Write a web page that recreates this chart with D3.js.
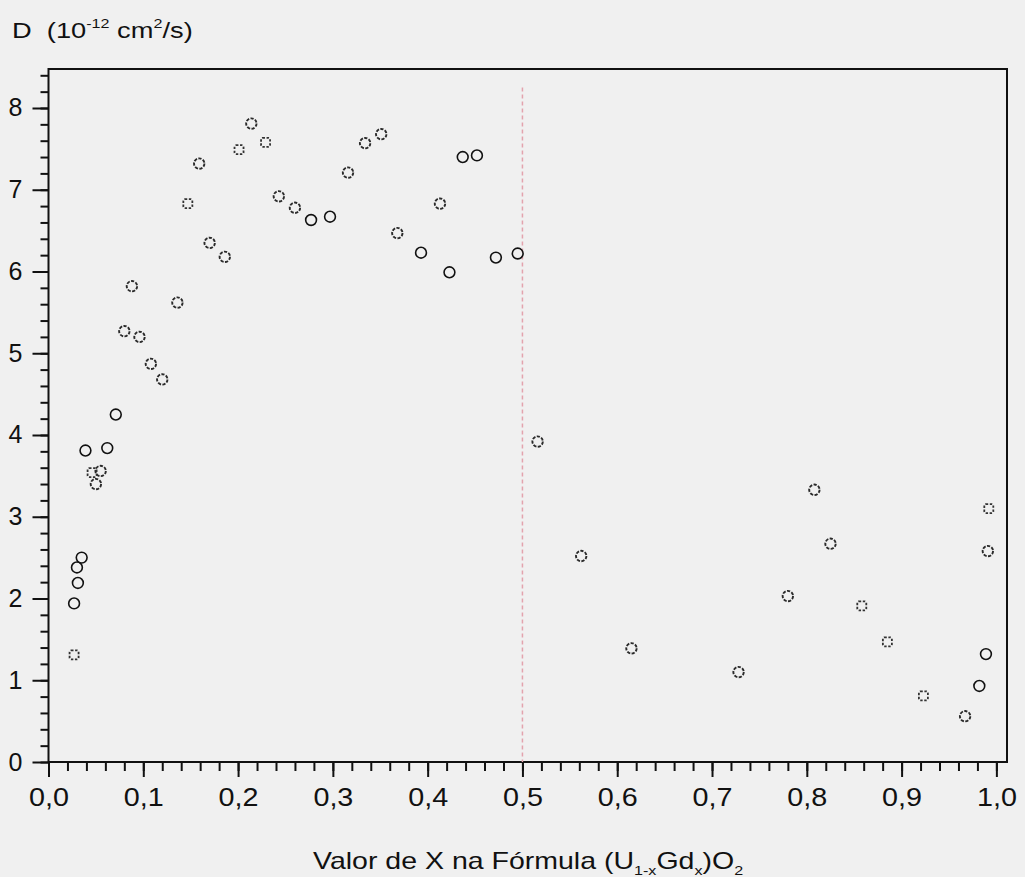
<!DOCTYPE html>
<html>
<head>
<meta charset="utf-8">
<script src="https://cdn.jsdelivr.net/npm/d3@7"></script>
<style>
  html, body { margin: 0; padding: 0; background: #f0f0f0; }
  svg { display: block; }
  text { font-family: "Liberation Sans", Arial, sans-serif; fill: #111; }
</style>
</head>
<body>
<svg id="chart" width="1025" height="877"></svg>
<script>
// Diffusion coefficient D (10^-12 cm²/s) versus Gd fraction x in (U1-xGdx)O2

// Sharp open circles
const xSharp = [0.027, 0.030, 0.031, 0.035, 0.039, 0.062, 0.071, 0.277, 0.297, 0.393, 0.423, 0.437, 0.452, 0.472, 0.495, 0.982, 0.989];
const dSharp = [1.94, 2.38, 2.19, 2.50, 3.81, 3.84, 4.25, 6.63, 6.67, 6.23, 5.99, 7.40, 7.42, 6.17, 6.22, 0.93, 1.32];

// Faint open circles
const xFaint = [0.055, 0.050, 0.080, 0.088, 0.096, 0.108, 0.120, 0.136, 0.159, 0.170, 0.186, 0.214, 0.243, 0.260, 0.316, 0.334, 0.351, 0.368, 0.413, 0.516, 0.562, 0.615, 0.728, 0.780, 0.808, 0.825, 0.967, 0.991];
const dFaint = [3.56, 3.40, 5.27, 5.82, 5.20, 4.87, 4.68, 5.62, 7.32, 6.35, 6.18, 7.81, 6.92, 6.78, 7.21, 7.57, 7.68, 6.47, 6.83, 3.92, 2.52, 1.39, 1.10, 2.03, 3.33, 2.67, 0.56, 2.58];

// Faint open squares
const xSquare = [0.027, 0.046, 0.147, 0.201, 0.229, 0.858, 0.885, 0.923, 0.992];
const dSquare = [1.31, 3.54, 6.83, 7.49, 7.58, 1.91, 1.47, 0.81, 3.10];

// Axis ticks
const xTicks = [0, 0.1, 0.2, 0.3, 0.4, 0.5, 0.6, 0.7, 0.8, 0.9, 1.0];
const yTicks = [0, 1, 2, 3, 4, 5, 6, 7, 8];
const xMinor = d3.range(0, 51).map(i => i * 0.02);
const yMinor = d3.range(0, 43).map(i => i * 0.2);

// Phase boundary marker
const boundaryX = 0.5;
const boundaryTop = 8.25;

const svg = d3.select("#chart");
const plotLeft = 48.5, plotRight = 1007, plotTop = 69, plotBottom = 762;

const x = d3.scaleLinear().domain([0, 1.0112]).range([plotLeft, plotRight]);
const y = d3.scaleLinear().domain([0, 8.477]).range([plotBottom, plotTop]);

// minor ticks
svg.append("g").attr("transform", `translate(0,${plotBottom})`)
  .call(d3.axisBottom(x).tickValues(xMinor).tickSize(9).tickFormat(""))
  .call(g => g.select(".domain").remove())
  .call(g => g.selectAll("line").attr("stroke", "#111").attr("stroke-width", 2));
svg.append("g").attr("transform", `translate(${plotLeft},0)`)
  .call(d3.axisLeft(y).tickValues(yMinor).tickSize(8).tickFormat(""))
  .call(g => g.select(".domain").remove())
  .call(g => g.selectAll("line").attr("stroke", "#111").attr("stroke-width", 2));

// major ticks with labels
const fmt = d => d.toFixed(1).replace(".", ",");
svg.append("g").attr("transform", `translate(0,${plotBottom})`)
  .call(d3.axisBottom(x).tickValues(xTicks).tickSize(15).tickPadding(11).tickFormat(fmt))
  .call(g => g.select(".domain").remove())
  .call(g => g.selectAll("line").attr("stroke", "#111").attr("stroke-width", 2))
  .call(g => g.selectAll("text").attr("font-size", 25).attr("fill", "#111")
    .attr("font-family", "Liberation Sans, Arial, sans-serif")
    .attr("transform", "scale(1.15,1)"));
svg.append("g").attr("transform", `translate(${plotLeft},0)`)
  .call(d3.axisLeft(y).tickValues(yTicks).tickSize(16).tickPadding(10).tickFormat(d3.format("d")))
  .call(g => g.select(".domain").remove())
  .call(g => g.selectAll("line").attr("stroke", "#111").attr("stroke-width", 2))
  .call(g => g.selectAll("text").attr("font-size", 25).attr("fill", "#111")
    .attr("font-family", "Liberation Sans, Arial, sans-serif"));

// plot frame
svg.append("rect")
  .attr("x", plotLeft).attr("y", plotTop)
  .attr("width", plotRight - plotLeft).attr("height", plotBottom - plotTop)
  .attr("fill", "none").attr("stroke", "#111").attr("stroke-width", 2);

// boundary line at x = 0.5
svg.append("line")
  .attr("x1", x(boundaryX)).attr("x2", x(boundaryX))
  .attr("y1", y(boundaryTop)).attr("y2", y(0))
  .attr("stroke", "#e3a3ad").attr("stroke-width", 1.5)
  .attr("stroke-dasharray", "4 3");

const defs = svg.append("defs");
defs.append("filter").attr("id", "soft")
  .append("feGaussianBlur").attr("stdDeviation", 0.4);

// faint circles
svg.append("g").attr("filter", "url(#soft)")
  .selectAll("circle").data(d3.zip(xFaint, dFaint)).join("circle")
  .attr("cx", d => x(d[0])).attr("cy", d => y(d[1])).attr("r", 5.2)
  .attr("fill", "none").attr("stroke", "#2a2a2a").attr("stroke-width", 1.9)
  .attr("stroke-dasharray", "3.2 1.4");

// faint squares
svg.append("g").attr("filter", "url(#soft)")
  .selectAll("rect").data(d3.zip(xSquare, dSquare)).join("rect")
  .attr("x", d => x(d[0]) - 4.5).attr("y", d => y(d[1]) - 4.5)
  .attr("width", 9).attr("height", 9).attr("rx", 1.5)
  .attr("fill", "none").attr("stroke", "#333").attr("stroke-width", 1.8)
  .attr("stroke-dasharray", "2.4 1.6");

// sharp circles
svg.append("g")
  .selectAll("circle").data(d3.zip(xSharp, dSharp)).join("circle")
  .attr("cx", d => x(d[0])).attr("cy", d => y(d[1])).attr("r", 5.4)
  .attr("fill", "none").attr("stroke", "#111").attr("stroke-width", 1.6);

// y-axis title
const yt = svg.append("text")
  .attr("transform", "translate(12,38) scale(1.24,1)")
  .attr("font-size", 22);
yt.append("tspan").text("D\u00a0\u00a0(10");
yt.append("tspan").attr("font-size", 13).attr("dy", -10).text("-12");
yt.append("tspan").attr("dy", 10).text("\u00a0cm");
yt.append("tspan").attr("font-size", 13).attr("dy", -10).text("2");
yt.append("tspan").attr("dy", 10).text("/s)");

// x-axis title
const xt = svg.append("text")
  .attr("transform", "translate(313,869) scale(1.24,1)")
  .attr("font-size", 23);
xt.append("tspan").text("Valor de X na Fórmula (U");
xt.append("tspan").attr("font-size", 13).attr("dy", 6).text("1-x");
xt.append("tspan").attr("dy", -6).text("Gd");
xt.append("tspan").attr("font-size", 13).attr("dy", 6).text("x");
xt.append("tspan").attr("dy", -6).text(")O");
xt.append("tspan").attr("font-size", 13).attr("dy", 6).text("2");
</script>
</body>
</html>
